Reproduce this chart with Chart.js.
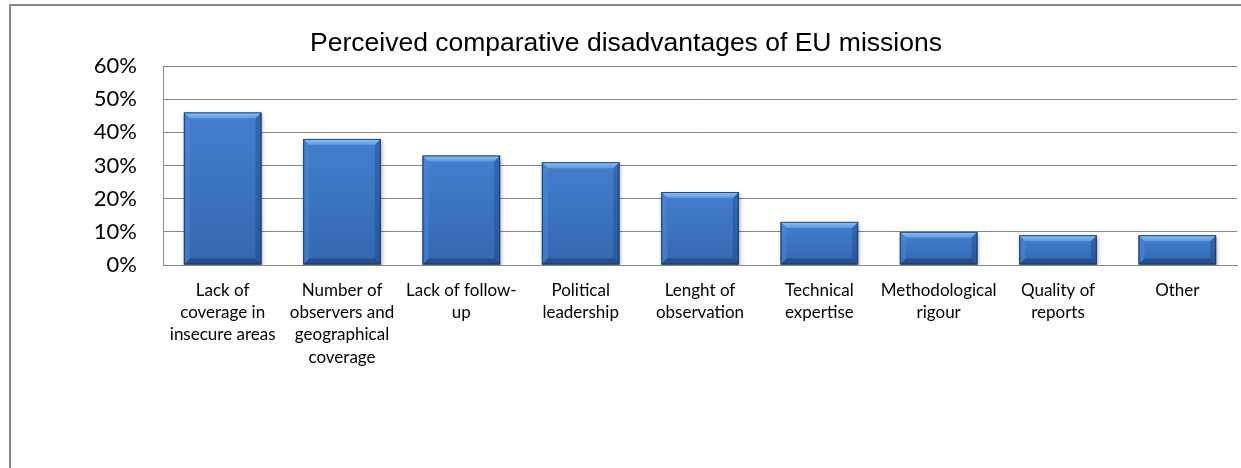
<!DOCTYPE html>
<html>
<head>
<meta charset="utf-8">
<script src="https://cdn.jsdelivr.net/npm/chart.js@4.4.1/dist/chart.umd.min.js"></script>
<style>
  html, body { margin: 0; padding: 0; background: #ffffff; }
  #wrap { position: relative; width: 1241px; height: 468px; }
  canvas { display: block; }
</style>
</head>
<body>
<div id="wrap"><canvas id="c" width="1241" height="468"></canvas></div>
<script>
const chartTitle = "Perceived comparative disadvantages of EU missions";
const categories = [
  ["Lack of", "coverage in", "insecure areas"],
  ["Number of", "observers and", "geographical", "coverage"],
  ["Lack of follow-", "up"],
  ["Political", "leadership"],
  ["Lenght of", "observation"],
  ["Technical", "expertise"],
  ["Methodological", "rigour"],
  ["Quality of", "reports"],
  ["Other"]
];
const values = [46, 38, 33, 31, 22, 13, 10, 9, 9];
const yTickLabels = ["0%", "10%", "20%", "30%", "40%", "50%", "60%"];

const frame = {
  id: 'frame',
  beforeDraw(chart) {
    const ctx = chart.ctx;
    ctx.save();
    ctx.fillStyle = '#ffffff';
    ctx.fillRect(0, 0, chart.width, chart.height);
    ctx.fillStyle = '#878787';
    ctx.fillRect(9, 4, chart.width - 9, 2);
    ctx.fillRect(9, 4, 2, chart.height - 4);
    ctx.restore();
  },
  afterDraw(chart) {
    const ctx = chart.ctx;
    ctx.save();
    ctx.fillStyle = '#000000';
    ctx.font = '26.5px "Liberation Sans", Arial, sans-serif';
    ctx.textAlign = 'center';
    ctx.textBaseline = 'alphabetic';
    ctx.fillText(chartTitle, 626, 51);
    ctx.restore();
  }
};

const bevel = {
  id: 'bevel',
  beforeDatasetDraw(chart) {
    const ctx = chart.ctx;
    ctx.save();
    ctx.shadowColor = 'rgba(0,0,0,0.35)';
    ctx.shadowBlur = 4;
    ctx.shadowOffsetX = 1;
    ctx.shadowOffsetY = 2;
  },
  afterDatasetDraw(chart) {
    chart.ctx.restore();
  },
  afterDatasetsDraw(chart) {
    const ctx = chart.ctx;
    const meta = chart.getDatasetMeta(0);
    meta.data.forEach(el => {
      const p = el.getProps(['x', 'y', 'width', 'base'], true);
      const L = p.x - p.width / 2, R = p.x + p.width / 2, T = p.y, B = p.base;
      const h = B - T;
      const b = Math.min(6, h / 3);
      ctx.save();
      const g = ctx.createLinearGradient(0, T, 0, B);
      g.addColorStop(0, '#437fce');
      g.addColorStop(1, '#3368b1');
      ctx.fillStyle = g;
      ctx.fillRect(L, T, R - L, h);
      const gt = ctx.createLinearGradient(0, T, 0, T + b);
      gt.addColorStop(0, '#92c4f4');
      gt.addColorStop(1, '#5c98e0');
      ctx.fillStyle = gt;
      ctx.beginPath();
      ctx.moveTo(L, T); ctx.lineTo(R, T); ctx.lineTo(R - b, T + b); ctx.lineTo(L + b, T + b); ctx.closePath();
      ctx.fill();
      ctx.fillStyle = 'rgba(80,140,215,0.45)';
      ctx.beginPath();
      ctx.moveTo(L, T); ctx.lineTo(L + b, T + b); ctx.lineTo(L + b, B - b); ctx.lineTo(L, B); ctx.closePath();
      ctx.fill();
      ctx.fillStyle = 'rgba(20,50,110,0.3)';
      ctx.beginPath();
      ctx.moveTo(R, T); ctx.lineTo(R, B); ctx.lineTo(R - b, B - b); ctx.lineTo(R - b, T + b); ctx.closePath();
      ctx.fill();
      ctx.fillStyle = 'rgba(15,40,90,0.4)';
      ctx.beginPath();
      ctx.moveTo(L, B); ctx.lineTo(R, B); ctx.lineTo(R - b, B - b); ctx.lineTo(L + b, B - b); ctx.closePath();
      ctx.fill();
      ctx.strokeStyle = 'rgba(25,50,95,0.85)';
      ctx.lineWidth = 1;
      ctx.strokeRect(L + 0.5, T + 0.5, R - L - 1, h - 1);
      ctx.restore();
    });
  }
};

new Chart(document.getElementById('c'), {
  type: 'bar',
  data: {
    labels: categories,
    datasets: [{
      data: values,
      backgroundColor: '#3a74c0',
      borderWidth: 0,
      barPercentage: 0.65,
      categoryPercentage: 1.0
    }]
  },
  plugins: [frame, bevel],
  options: {
    responsive: false,
    animation: false,
    events: [],
    layout: { padding: { left: 0, right: 4, top: 66, bottom: 53 } },
    plugins: { legend: { display: false }, title: { display: false }, tooltip: { enabled: false } },
    scales: {
      x: {
        grid: { display: false, drawTicks: false },
        border: { display: true, color: '#878787', width: 1 },
        ticks: {
          color: '#000000',
          maxRotation: 0, minRotation: 0, autoSkip: false,
          padding: 14,
          font: { family: 'Lato, "Noto Sans", sans-serif', size: 17, lineHeight: 22.4 / 17 }
        },
        afterFit(scale) { scale.height = 150; }
      },
      y: {
        min: 0, max: 60,
        grid: { color: '#878787', lineWidth: 1, drawTicks: false },
        border: { display: true, color: '#878787', width: 1 },
        ticks: {
          stepSize: 10,
          color: '#000000',
          padding: 26,
          font: { family: 'Lato, "Noto Sans", sans-serif', size: 22 },
          callback: (v, i) => yTickLabels[i]
        },
        afterFit(scale) { scale.width = 163; }
      }
    }
  }
});
</script>
</body>
</html>
